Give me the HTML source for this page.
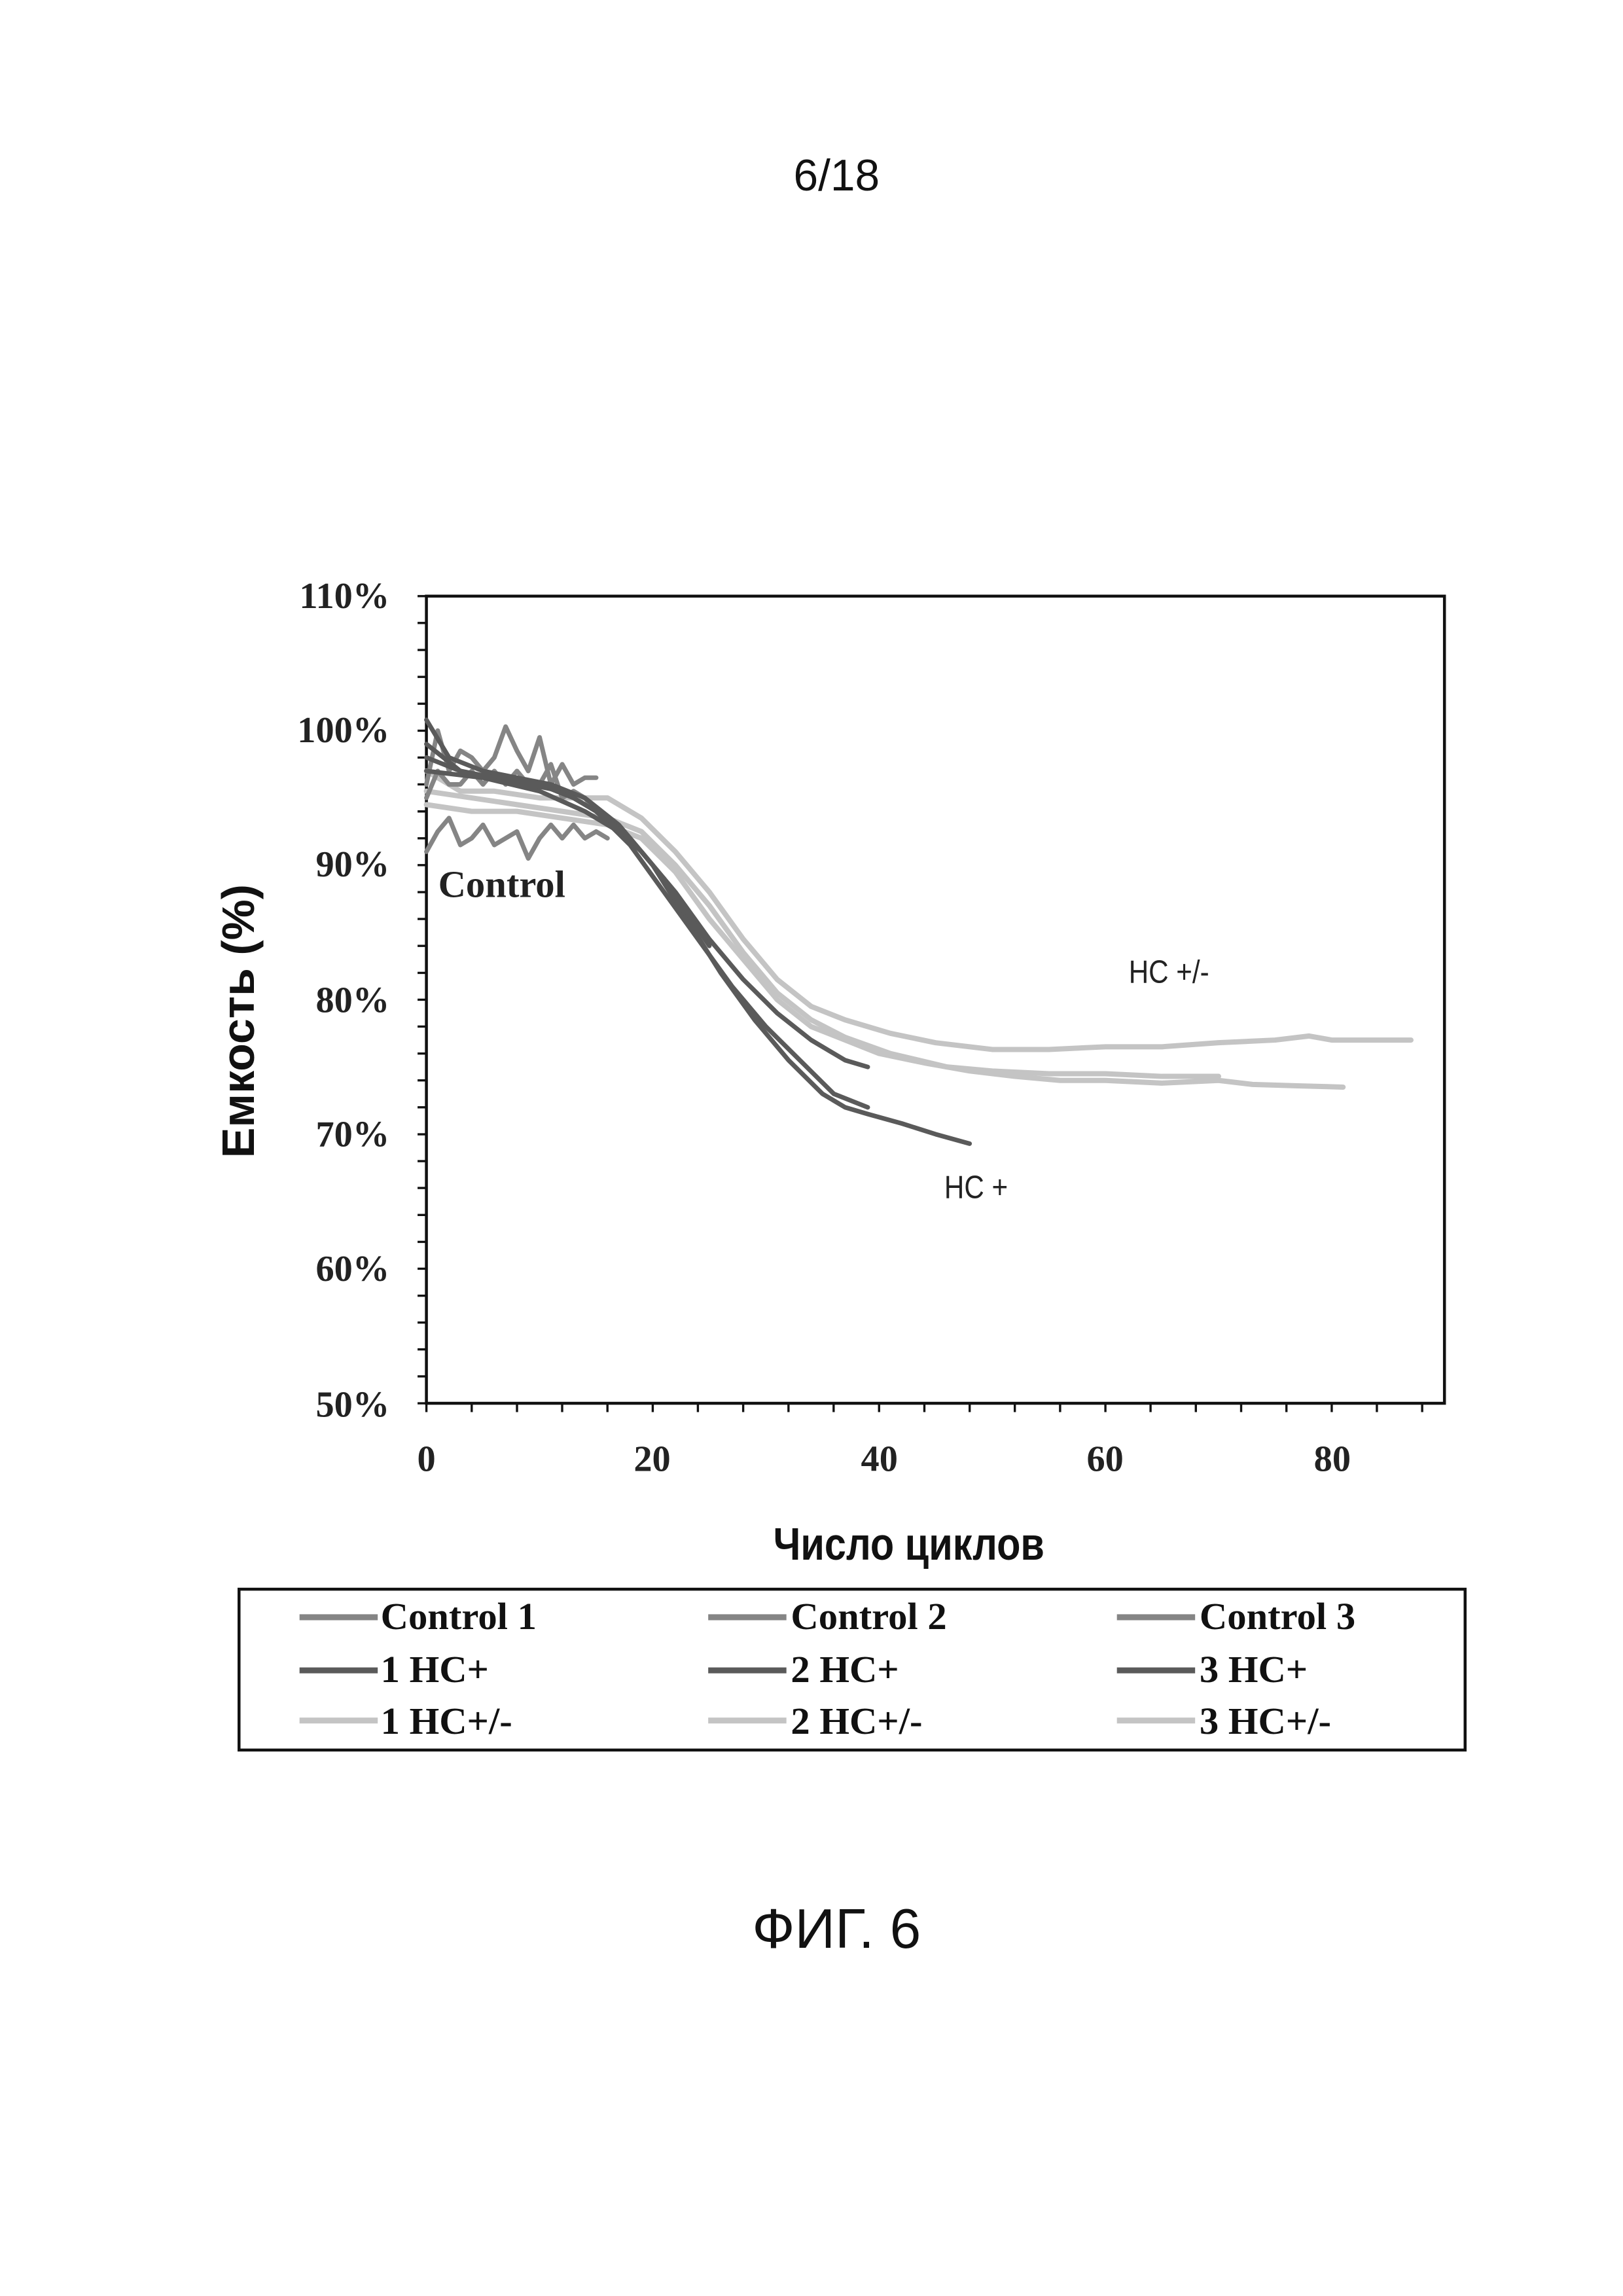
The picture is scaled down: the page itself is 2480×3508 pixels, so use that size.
<!DOCTYPE html>
<html><head><meta charset="utf-8"><style>
html,body{margin:0;padding:0;background:#fff;}
svg{display:block}
.tk{font-family:"Liberation Serif",serif;font-weight:bold;font-size:25px;fill:#222}
.lg{font-family:"Liberation Serif",serif;font-weight:bold;font-size:26px;fill:#111}
</style></head><body>
<svg width="2480" height="3508" viewBox="0 0 1100 1556" xmlns="http://www.w3.org/2000/svg">
<text x="567" y="129" text-anchor="middle" font-family="Liberation Sans,sans-serif" font-size="30" fill="#111">6/18</text>
<text x="567" y="1320" text-anchor="middle" font-family="Liberation Sans,sans-serif" font-size="38" fill="#111">ФИГ. 6</text>

<rect x="289" y="404" width="690" height="547" fill="none" stroke="#111" stroke-width="2"/>
<g stroke="#111" stroke-width="1.5">
<path d="M283 404H289M283 422.2H289M283 440.5H289M283 458.7H289M283 476.9H289M283 495.2H289M283 513.4H289M283 531.6H289M283 549.9H289M283 568.1H289M283 586.3H289M283 604.6H289M283 622.8H289M283 641H289M283 659.3H289M283 677.5H289M283 695.7H289M283 714H289M283 732.2H289M283 750.4H289M283 768.7H289M283 786.9H289M283 805.1H289M283 823.4H289M283 841.6H289M283 859.8H289M283 878.1H289M283 896.3H289M283 914.5H289M283 932.8H289M283 951H289"/>
<path d="M289 951V957M319.7 951V957M350.4 951V957M381 951V957M411.7 951V957M442.4 951V957M473 951V957M503.7 951V957M534.4 951V957M565 951V957M595.8 951V957M626.5 951V957M657.2 951V957M687.8 951V957M718.5 951V957M749.2 951V957M779.8 951V957M810.5 951V957M841.2 951V957M871.9 951V957M902.6 951V957M933.2 951V957M963.9 951V957"/>
</g>
<g class="tk" text-anchor="end">
<text x="264" y="412">110%</text><text x="264" y="503">100%</text><text x="264" y="594">90%</text>
<text x="264" y="686">80%</text><text x="264" y="777">70%</text><text x="264" y="868">60%</text><text x="264" y="960">50%</text>
</g>
<g class="tk" text-anchor="middle">
<text x="289" y="997">0</text><text x="442" y="997">20</text><text x="596" y="997">40</text><text x="749" y="997">60</text><text x="903" y="997">80</text>
</g>
<text transform="translate(172,692) rotate(-90)" text-anchor="middle" font-family="Liberation Sans,sans-serif" font-weight="bold" font-size="31" fill="#111">Емкость (%)</text>
<text x="616" y="1057" text-anchor="middle" font-family="Liberation Sans,sans-serif" font-weight="bold" font-size="31" fill="#111" transform="translate(616,0) scale(0.85,1) translate(-616,0)">Число циклов</text>

<g transform="translate(289,951) scale(7.67,-9.117) translate(0,-50)" fill="none" stroke-linejoin="round" stroke-linecap="round">
<g stroke="#c4c4c4" stroke-width="8">
<polyline vector-effect="non-scaling-stroke" points="0,97 3,95.5 6,95.5 10,95 13,95 16,95 19,93.5 22,91 25,88 28,84.5 31,81.5 34,79.5 37,78.5 41,77.5 45,76.8 50,76.3 55,76.3 60,76.5 65,76.5 70,76.8 75,77 78,77.3 80,77 84,77 87,77"/>
<polyline vector-effect="non-scaling-stroke" points="0,95.5 4,95 8,94.5 12,94 16,93.5 19,92.5 22,90 25,87 28,83.5 31,80.5 34,78.5 37,77.2 41,76 46,75 50,74.7 55,74.5 60,74.5 65,74.3 70,74.3"/>
<polyline vector-effect="non-scaling-stroke" points="0,94.5 4,94 8,94 12,93.5 16,93 19,92 22,89.5 25,86 28,83 31,80 34,78 37,77 40,76 44,75.3 48,74.7 52,74.3 56,74 60,74 65,73.8 70,74 73,73.7 77,73.6 81,73.5"/>
</g>
<g stroke="#858585" stroke-width="7">
<polyline vector-effect="non-scaling-stroke" points="0,91 1,92.5 2,93.5 3,91.5 4,92 5,93 6,91.5 7,92 8,92.5 9,90.5 10,92 11,93 12,92 13,93 14,92 15,92.5 16,92"/>
<polyline vector-effect="non-scaling-stroke" points="0,96 1,100 2,97 3,98.5 4,98 5,97 6,98 7,100.3 8,98.5 9,97 10,99.5 11,96 12,97.5 13,96 14,96.5 15,96.5"/>
<polyline vector-effect="non-scaling-stroke" points="0,95 1,97 2,96 3,96 4,97 5,96 6,97 7,96 8,97 9,96 10,96 11,97.5 12,95 13,95.5 14,95 15,94"/>
</g>
<g stroke="#5a5a5a" stroke-width="7">
<polyline vector-effect="non-scaling-stroke" points="0,100.8 2,98 5,97 8,96.5 11,96 14,95 17,93 20,90 23,86 26,82 29,78.5 32,75.5 35,73 37,72 39,71.5 42,70.8 45,70 48,69.3"/>
<polyline vector-effect="non-scaling-stroke" points="0,99 3,97 6,96.5 9,96 12,95.5 15,94 18,91.5 21,88 24,84.5 27,81 30,78 33,75.5 36,73 39,72"/>
<polyline vector-effect="non-scaling-stroke" points="0,98 3,97 6,96.5 10,96 13,95 16,93.5 19,91 22,88 25,84.5 28,81.5 31,79 34,77 37,75.5 39,75"/>
<polyline vector-effect="non-scaling-stroke" points="0,97 5,96.5 10,95.5 14,94 18,92 21,89 25,84"/>
</g>
</g>
<text x="297" y="608" font-family="Liberation Serif,serif" font-weight="bold" font-size="26" fill="#222">Control</text>
<text x="765" y="666" font-family="Liberation Sans,sans-serif" font-size="22" fill="#222" transform="translate(765,0) scale(0.85,1) translate(-765,0)">HC +/-</text>
<text x="640" y="812" font-family="Liberation Sans,sans-serif" font-size="22" fill="#222" transform="translate(640,0) scale(0.85,1) translate(-640,0)">HC +</text>

<rect x="162" y="1077" width="831" height="109" fill="#fff" stroke="#111" stroke-width="2"/>
<g stroke-width="4">
<path d="M203 1096H256M480 1096H533M757 1096H810" stroke="#858585"/>
<path d="M203 1132H256M480 1132H533M757 1132H810" stroke="#5a5a5a"/>
<path d="M203 1166H256M480 1166H533M757 1166H810" stroke="#c4c4c4"/>
</g>
<g class="lg">
<text x="258" y="1104">Control 1</text><text x="536" y="1104">Control 2</text><text x="813" y="1104">Control 3</text>
<text x="258" y="1140">1 HC+</text><text x="536" y="1140">2 HC+</text><text x="813" y="1140">3 HC+</text>
<text x="258" y="1175">1 HC+/-</text><text x="536" y="1175">2 HC+/-</text><text x="813" y="1175">3 HC+/-</text>
</g>
</svg>
</body></html>
